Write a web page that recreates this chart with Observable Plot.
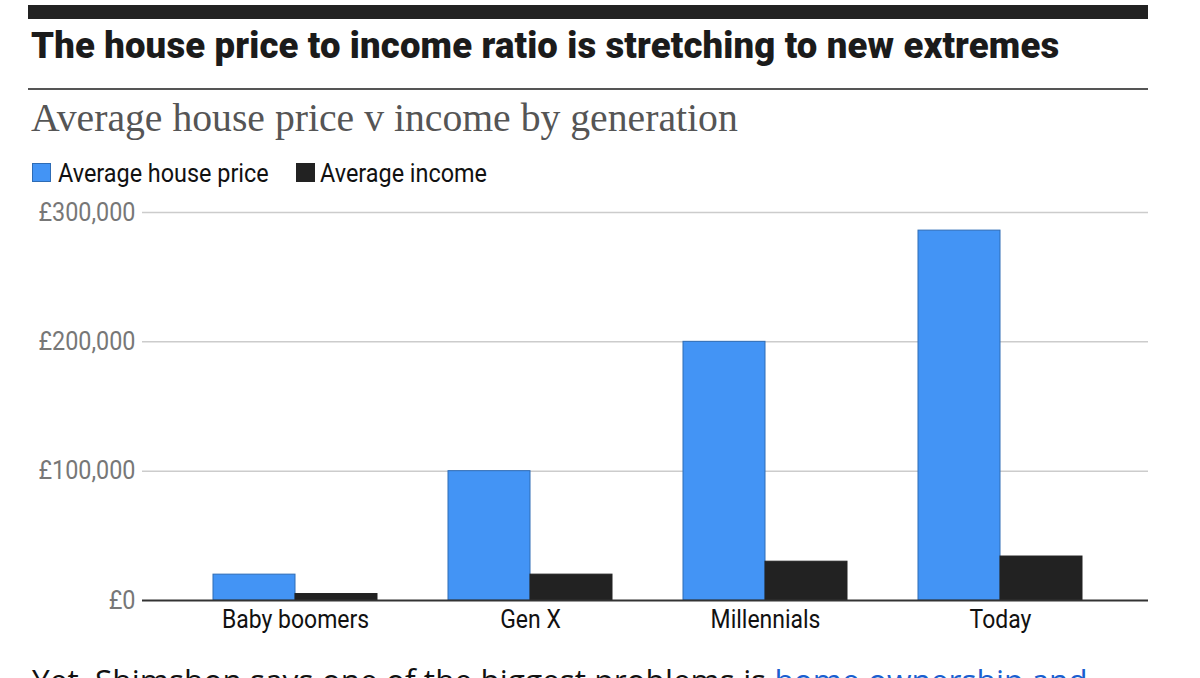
<!DOCTYPE html>
<html>
<head>
<meta charset="utf-8">
<script src="https://cdn.jsdelivr.net/npm/d3@7"></script>
<script src="https://cdn.jsdelivr.net/npm/@observablehq/plot@0.6"></script>
<style>
  html, body { margin: 0; padding: 0; background: #fff; width: 1200px; height: 678px; overflow: hidden; }
  #wrap { position: relative; width: 1200px; height: 678px; overflow: hidden; }
  .topbar { position: absolute; left: 28px; top: 5px; width: 1120px; height: 14px; background: #222; }
  .title { position: absolute; left: 31px; top: 28px; font-family: Roboto, "Liberation Sans", sans-serif; font-weight: 900; font-size: 36.5px; line-height: 36px; letter-spacing: 0.15px; color: #1b1b1b; white-space: nowrap; }
  .rule { position: absolute; left: 28px; top: 88px; width: 1120px; height: 2px; background: #555; }
  .subtitle { position: absolute; left: 31px; top: 99px; font-family: "Liberation Serif", "DejaVu Serif", serif; font-size: 39.7px; line-height: 39.5px; color: #555; white-space: nowrap; }
  .legend { position: absolute; left: 32px; top: 160px; height: 26px; font-family: Roboto, sans-serif; font-size: 26px; line-height: 26px; color: #111; white-space: nowrap; }
  .legend .sw { position: absolute; top: 3px; width: 19px; height: 19px; box-sizing: border-box; }
  .legend .lab { position: absolute; top: 0; white-space: nowrap; display: inline-block; transform-origin: 0 50%; }
  #chart { position: absolute; left: 0; top: 196px; }
  .body { position: absolute; left: 32px; top: 664px; font-family: "Open Sans", sans-serif; font-size: 31.6px; line-height: 32px; color: #111; white-space: nowrap; }
  .body a { color: #1a5fd0; text-decoration: none; }
</style>
</head>
<body>
<div id="wrap">
  <div class="topbar"></div>
  <div class="title">The house price to income ratio is stretching to new extremes</div>
  <div class="rule"></div>
  <div class="subtitle">Average house price v income by generation</div>
  <div class="legend" id="legend"></div>
  <div id="chart"></div>
  <div class="body">Yet, Shimshon says one of the biggest problems is <a>home ownership and</a></div>
</div>
<script>
const generations = ["Baby boomers", "Gen X", "Millennials", "Today"];
const housePrice = [20000, 100000, 200000, 286000];
const income = [5000, 20000, 30000, 34000];
const yTicks = [0, 100000, 200000, 300000];
const seriesNames = ["Average house price", "Average income"];
const seriesColors = ["#4394f5", "#222222"];
const seriesStrokes = ["#2e6cb5", "#222222"];

const rows = generations.map((g, i) => ({generation: g, house: housePrice[i], income: income[i]}));

const squeeze = 0.9; // condensed look for the sans labels

// legend
const legend = document.getElementById("legend");
const swatchX = [0, 264];
const labelX = [26, 288];
seriesNames.forEach((name, i) => {
  const sw = document.createElement("span");
  sw.className = "sw";
  sw.style.left = swatchX[i] + "px";
  sw.style.background = seriesColors[i];
  sw.style.border = "1px solid " + seriesStrokes[i];
  const lab = document.createElement("span");
  lab.className = "lab";
  lab.style.left = labelX[i] + "px";
  lab.style.transform = `scaleX(${squeeze})`;
  lab.textContent = name;
  legend.appendChild(sw);
  legend.appendChild(lab);
});

const half = 82;

const chart = Plot.plot({
  width: 1200,
  height: 448,
  marginLeft: 142,
  marginRight: 52,
  marginTop: 16,
  marginBottom: 44,
  style: {fontFamily: "Roboto, sans-serif", background: "transparent", overflow: "visible"},
  x: {domain: generations, paddingInner: 0.303, paddingOuter: 0.289, align: 0.515, axis: null},
  y: {domain: [0, 300000], axis: null},
  marks: [
    Plot.ruleY(yTicks.filter(d => d > 0), {stroke: "#cccccc", strokeWidth: 1.5}),
    Plot.barY(rows, {x: "generation", y: "house", fill: seriesColors[0], stroke: seriesStrokes[0], strokeWidth: 1, insetRight: half}),
    Plot.barY(rows, {x: "generation", y: "income", fill: seriesColors[1], stroke: seriesStrokes[1], strokeWidth: 1, insetLeft: half}),
    Plot.ruleY([0], {stroke: "#333333", strokeWidth: 2}),
    Plot.axisY({ticks: yTicks, tickSize: 0, tickPadding: 7, tickFormat: d => "£" + d3.format(",")(d), fill: "#777777", fontSize: 26, label: null}),
    Plot.axisX({tickSize: 0, tickPadding: 9, fill: "#111111", fontSize: 25.5, label: null})
  ]
});
document.getElementById("chart").appendChild(chart);

// condense tick labels horizontally
chart.querySelectorAll("text").forEach(t => {
  const len = t.getComputedTextLength();
  if (len > 0) {
    t.setAttribute("textLength", (len * squeeze).toFixed(1));
    t.setAttribute("lengthAdjust", "spacingAndGlyphs");
  }
});
</script>
</body>
</html>
